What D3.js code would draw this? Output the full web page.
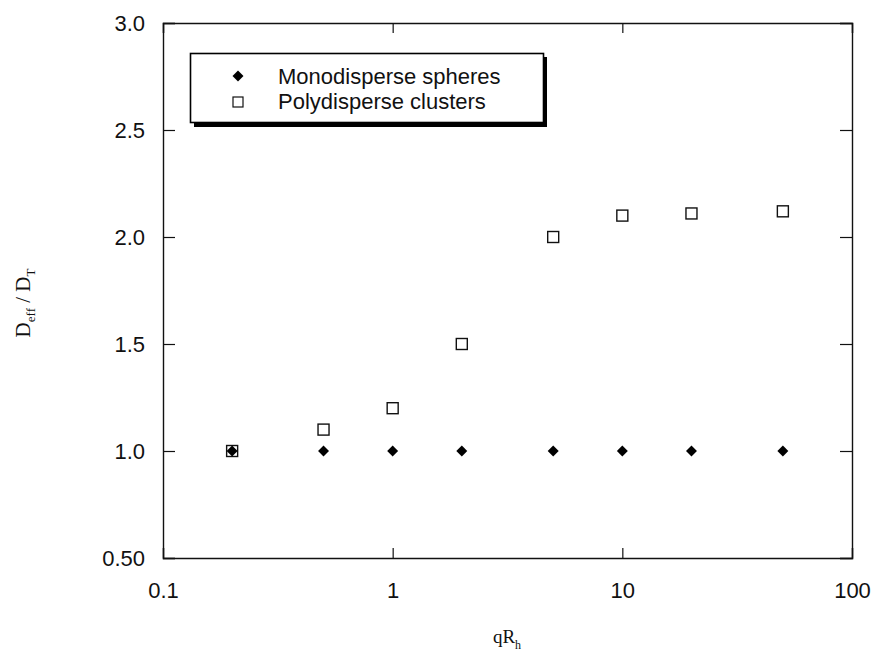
<!DOCTYPE html>
<html>
<head>
<meta charset="utf-8">
<script src="https://cdn.jsdelivr.net/npm/d3@7/dist/d3.min.js"></script>
<style>
  body { margin: 0; background: #fff; }
  svg { display: block; }
</style>
</head>
<body>
<svg id="chart" width="872" height="654"></svg>
<script>
const qR = [0.2, 0.5, 1, 2, 5, 10, 20, 50];
const mono = [1.0, 1.0, 1.0, 1.0, 1.0, 1.0, 1.0, 1.0];
const poly = [1.0, 1.1, 1.2, 1.5, 2.0, 2.1, 2.11, 2.12];
const xTicks = [0.1, 1, 10, 100];
const xTickLabels = ["0.1", "1", "10", "100"];
const yTicks = [0.5, 1.0, 1.5, 2.0, 2.5, 3.0];
const yTickLabels = ["0.50", "1.0", "1.5", "2.0", "2.5", "3.0"];
const seriesNames = ["Monodisperse spheres", "Polydisperse clusters"];

const svg = d3.select("#chart");
const L = 163, R = 852, T = 23, B = 558;
const x = d3.scaleLog().domain([0.1, 100]).range([L, R]);
const y = d3.scaleLinear().domain([0.5, 3.0]).range([B, T]);

const sansFont = "Liberation Sans, Arial, sans-serif";
const serifFont = "Liberation Serif, Times New Roman, serif";

// axes (inward ticks)
const axB = svg.append("g").attr("transform", `translate(0,${B})`)
  .call(d3.axisBottom(x).tickValues(xTicks).tickSize(-10).tickFormat((d, i) => xTickLabels[i]).tickPadding(24));
const axT = svg.append("g").attr("transform", `translate(0,${T})`)
  .call(d3.axisTop(x).tickValues(xTicks).tickSize(-10).tickFormat(""));
const axL = svg.append("g").attr("transform", `translate(${L},0)`)
  .call(d3.axisLeft(y).tickValues(yTicks).tickSize(-12).tickFormat((d, i) => yTickLabels[i]).tickPadding(18));
const axR = svg.append("g").attr("transform", `translate(${R},0)`)
  .call(d3.axisRight(y).tickValues(yTicks).tickSize(-12).tickFormat(""));

[axB, axT, axL, axR].forEach(g => {
  g.attr("font-size", 22).attr("font-family", sansFont);
  g.select(".domain").attr("stroke", "#111").attr("stroke-width", 1.4);
  g.selectAll(".tick line").attr("stroke", "#111").attr("stroke-width", 1.2);
  g.selectAll(".tick text").attr("fill", "#111");
});

// data marks
const diamondPath = d3.symbol().type(d3.symbolSquare).size(60)();
svg.append("g").selectAll("rect").data(qR.map((q, i) => [q, poly[i]])).join("rect")
  .attr("x", d => x(d[0]) - 5.5).attr("y", d => y(d[1]) - 5.5)
  .attr("width", 11).attr("height", 11)
  .attr("fill", "#fff").attr("stroke", "#111").attr("stroke-width", 1.4);
svg.append("g").selectAll("path").data(qR.map((q, i) => [q, mono[i]])).join("path")
  .attr("d", diamondPath)
  .attr("transform", d => `translate(${x(d[0])},${y(d[1])}) rotate(45)`)
  .attr("fill", "#000");

// legend
const lg = svg.append("g");
lg.append("rect").attr("x", 194).attr("y", 57).attr("width", 353).attr("height", 70).attr("fill", "#000");
lg.append("rect").attr("x", 190.5).attr("y", 53.5).attr("width", 353).attr("height", 69)
  .attr("fill", "#fff").attr("stroke", "#000").attr("stroke-width", 1.6);
lg.append("path").attr("d", diamondPath)
  .attr("transform", "translate(238,76) rotate(45)").attr("fill", "#000");
lg.append("rect").attr("x", 233).attr("y", 97).attr("width", 10).attr("height", 10)
  .attr("fill", "#fff").attr("stroke", "#111").attr("stroke-width", 1.2);
lg.selectAll("text").data(seriesNames).join("text")
  .attr("x", 278).attr("y", (d, i) => 84 + i * 25)
  .attr("font-family", sansFont).attr("font-size", 22).attr("fill", "#111")
  .text(d => d);

// axis titles
const yl = svg.append("text").attr("transform", "translate(30,303) rotate(-90)")
  .attr("text-anchor", "middle").attr("font-family", serifFont).attr("font-size", 21).attr("fill", "#111");
yl.append("tspan").text("D");
yl.append("tspan").attr("font-size", 13).attr("dy", 5).text("eff");
yl.append("tspan").attr("dy", -5).text(" / D");
yl.append("tspan").attr("font-size", 13).attr("dy", 5).text("T");

const xl = svg.append("text").attr("x", 507).attr("y", 643)
  .attr("text-anchor", "middle").attr("font-family", serifFont).attr("font-size", 19).attr("fill", "#111");
xl.append("tspan").text("qR");
xl.append("tspan").attr("font-size", 12).attr("dy", 6).text("h");
</script>
</body>
</html>
